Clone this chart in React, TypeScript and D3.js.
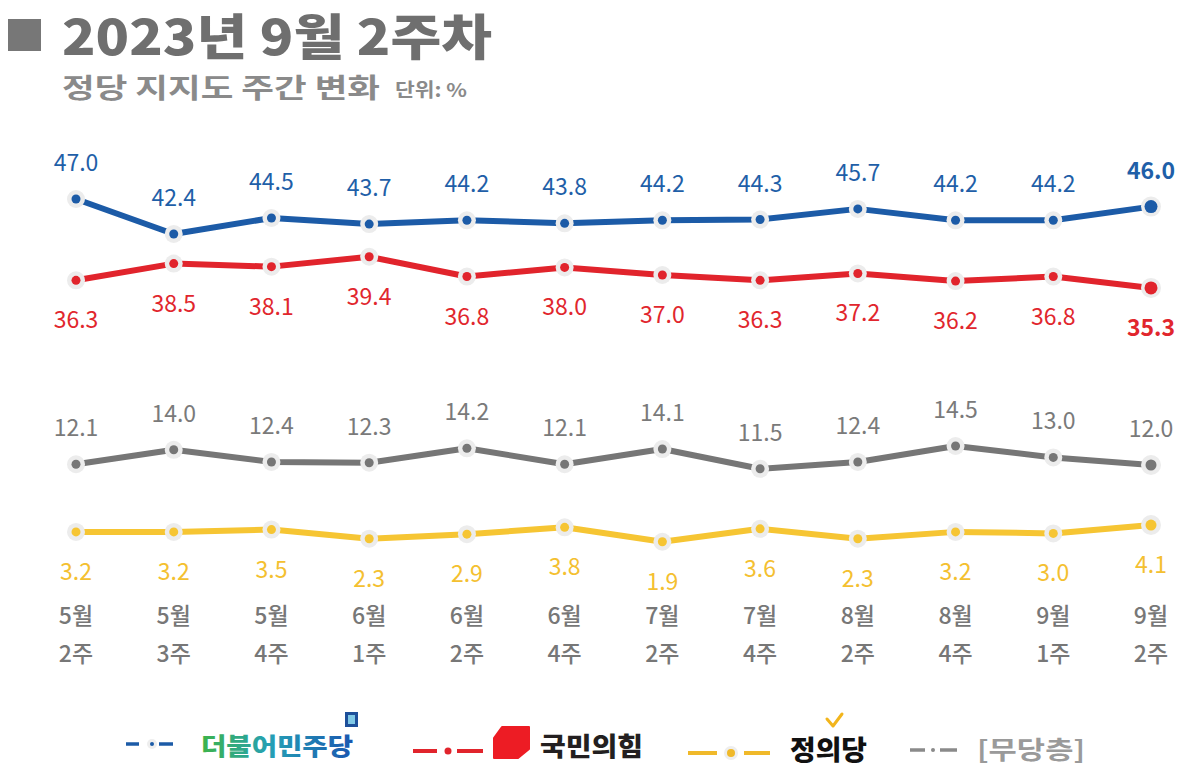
import React from 'react';
import * as d3 from 'd3';

const weeks = ['5월 2주', '5월 3주', '5월 4주', '6월 1주', '6월 2주', '6월 4주', '7월 2주', '7월 4주', '8월 2주', '8월 4주', '9월 1주', '9월 2주'];
const democratic = [47.0, 42.4, 44.5, 43.7, 44.2, 43.8, 44.2, 44.3, 45.7, 44.2, 44.2, 46.0];
const peoplePower = [36.3, 38.5, 38.1, 39.4, 36.8, 38.0, 37.0, 36.3, 37.2, 36.2, 36.8, 35.3];
const independent = [12.1, 14.0, 12.4, 12.3, 14.2, 12.1, 14.1, 11.5, 12.4, 14.5, 13.0, 12.0];
const justice = [3.2, 3.2, 3.5, 2.3, 2.9, 3.8, 1.9, 3.6, 2.3, 3.2, 3.0, 4.1];

const seriesNames = ['더불어민주당', '국민의힘', '정의당', '[무당층]'];

const W = 1200;
const H = 779;
const NUM_FONT = "'Noto Sans CJK KR', 'Noto Sans', sans-serif";
const KR_FONT = "'Noto Sans CJK KR', sans-serif";

type Series = { name: string; values: number[]; line: string; text: string; labelPos: 'above' | 'below'; boldLast: boolean };

const series: Series[] = [
  { name: seriesNames[0], values: democratic, line: '#1c5ba7', text: '#1f5fa8', labelPos: 'above', boldLast: true },
  { name: seriesNames[1], values: peoplePower, line: '#e1242c', text: '#e1262d', labelPos: 'below', boldLast: true },
  { name: seriesNames[3], values: independent, line: '#767676', text: '#7a7a7a', labelPos: 'above', boldLast: false },
  { name: seriesNames[2], values: justice, line: '#f6c533', text: '#f4c030', labelPos: 'below', boldLast: false },
];

export default function App() {
  const x = d3.scalePoint<string>().domain(weeks).range([76, 1151]);
  const y = d3.scaleLinear().domain([0, 47]).range([556.2, 199]);
  const line = d3
    .line<number>()
    .x((_, i) => x(weeks[i]) as number)
    .y((d) => y(d));
  const last = weeks.length - 1;

  return (
    <svg
      width={W}
      height={H}
      style={{ position: 'absolute', left: 0, top: 0, background: '#fff' }}
    >
      <rect width={W} height={H} fill="#fff" />
      {/* Title */}
      <rect x={8} y={19} width={33} height={32} fill="#777" />
      <text x={62} y={55} fontFamily={KR_FONT} fontWeight={900} fontSize={49} fill="#6f6f6f" textLength={430} lengthAdjust="spacingAndGlyphs">
        2023년 9월 2주차
      </text>
      <text x={62} y={98} fontFamily={KR_FONT} fontWeight={700} fontSize={27} fill="#8a8a8a" textLength={318} lengthAdjust="spacingAndGlyphs">
        정당 지지도 주간 변화
      </text>
      <text x={395} y={97} fontFamily={KR_FONT} fontWeight={700} fontSize={19} fill="#8a8a8a" textLength={72} lengthAdjust="spacingAndGlyphs">
        단위: %
      </text>

      {/* Lines */}
      {series.map((s) => (
        <g key={s.name}>
          <path d={line(s.values) || ''} fill="none" stroke={s.line} strokeWidth={6} strokeLinejoin="round" />
          {s.values.map((v, i) => {
            const cx = x(weeks[i]) as number;
            const cy = y(v);
            const isLast = i === last;
            return (
              <g key={i}>
                <circle cx={cx} cy={cy} r={isLast ? 10 : 9} fill="#ececec" />
                <circle cx={cx} cy={cy} r={isLast ? (s.boldLast ? 6.5 : 5.5) : 4.5} fill={s.line} />
              </g>
            );
          })}
          {s.values.map((v, i) => {
            const cx = x(weeks[i]) as number;
            const cy = y(v);
            const ty = s.labelPos === 'above' ? cy - 38 : cy + 38;
            return (
              <text
                key={'t' + i}
                x={cx}
                y={ty}
                textAnchor="middle"
                dominantBaseline="central"
                fontFamily={NUM_FONT}
                fontSize={23}
                fontWeight={i === last && s.boldLast ? 700 : 400}
                fill={s.text}
              >
                {v.toFixed(1)}
              </text>
            );
          })}
        </g>
      ))}

      {/* X axis labels */}
      {weeks.map((w) => {
        const [m, wk] = w.split(' ');
        const cx = x(w) as number;
        return (
          <g key={w} fontFamily={KR_FONT} fontSize={23} fontWeight={500} fill="#777" textAnchor="middle">
            <text x={cx} y={614} dominantBaseline="central">{m}</text>
            <text x={cx} y={652} dominantBaseline="central">{wk}</text>
          </g>
        );
      })}

      {/* Legend */}
      <defs>
        <linearGradient id="demGrad" x1="0" x2="1" y1="0" y2="0">
          <stop offset="0" stopColor="#3db34a" />
          <stop offset="0.45" stopColor="#25a0b5" />
          <stop offset="1" stopColor="#1a57b0" />
        </linearGradient>
      </defs>
      {/* Democratic */}
      <g>
        <line x1={126} x2={139} y1={744} y2={744} stroke="#1c5ba7" strokeWidth={3.5} />
        <circle cx={152} cy={744} r={5} fill="#eee" />
        <circle cx={152} cy={744} r={2} fill="#1c5ba7" />
        <line x1={159} x2={173} y1={744} y2={744} stroke="#1c5ba7" strokeWidth={3.5} />
        <text x={201} y={744} dominantBaseline="central" fontFamily={KR_FONT} fontWeight={900} fontSize={24} fill="url(#demGrad)" textLength={152} lengthAdjust="spacingAndGlyphs">
          {seriesNames[0]}
        </text>
        <rect x={345} y={712} width={13} height={15} fill="#1d4f9a" />
        <rect x={348} y={715} width={7} height={9} fill="#7fc8e6" />
      </g>
      {/* People Power */}
      <g>
        <line x1={413} x2={437} y1={751} y2={751} stroke="#e1242c" strokeWidth={4} />
        <circle cx={448} cy={751} r={3.5} fill="#e1242c" />
        <line x1={457} x2={483} y1={751} y2={751} stroke="#e1242c" strokeWidth={4} />
        <path d="M502,727 L529,727 L529,749 L518,758 L494,758 L494,738 Z" fill="#ed1c24" stroke="#ed1c24" strokeWidth={2} strokeLinejoin="round" />
        <text x={540} y={744} dominantBaseline="central" fontFamily={KR_FONT} fontWeight={900} fontSize={26} fill="#231f20" textLength={103} lengthAdjust="spacingAndGlyphs">
          {seriesNames[1]}
        </text>
      </g>
      {/* Justice */}
      <g>
        <line x1={688} x2={717} y1={753} y2={753} stroke="#f0b92a" strokeWidth={4} />
        <circle cx={731} cy={753} r={7} fill="#eee" />
        <circle cx={731} cy={753} r={4} fill="#f0b92a" />
        <line x1={744} x2={770} y1={753} y2={753} stroke="#f0b92a" strokeWidth={4} />
        <text x={790} y={748} dominantBaseline="central" fontFamily={KR_FONT} fontWeight={900} fontSize={27} fill="#111" textLength={77} lengthAdjust="spacingAndGlyphs">
          {seriesNames[2]}
        </text>
        <path d="M827,719 L833,726 L842,714" fill="none" stroke="#f2b51c" strokeWidth={3} strokeLinecap="round" strokeLinejoin="round" />
      </g>
      {/* Independent */}
      <g>
        <line x1={910} x2={925} y1={750} y2={750} stroke="#8a8a8a" strokeWidth={3.5} />
        <circle cx={933} cy={750} r={2} fill="#8a8a8a" />
        <line x1={940} x2={957} y1={750} y2={750} stroke="#8a8a8a" strokeWidth={3.5} />
        <text x={977} y={748} dominantBaseline="central" fontFamily={KR_FONT} fontWeight={700} fontSize={25} fill="#9a9a9a" textLength={108} lengthAdjust="spacingAndGlyphs">
          {seriesNames[3]}
        </text>
      </g>
    </svg>
  );
}
